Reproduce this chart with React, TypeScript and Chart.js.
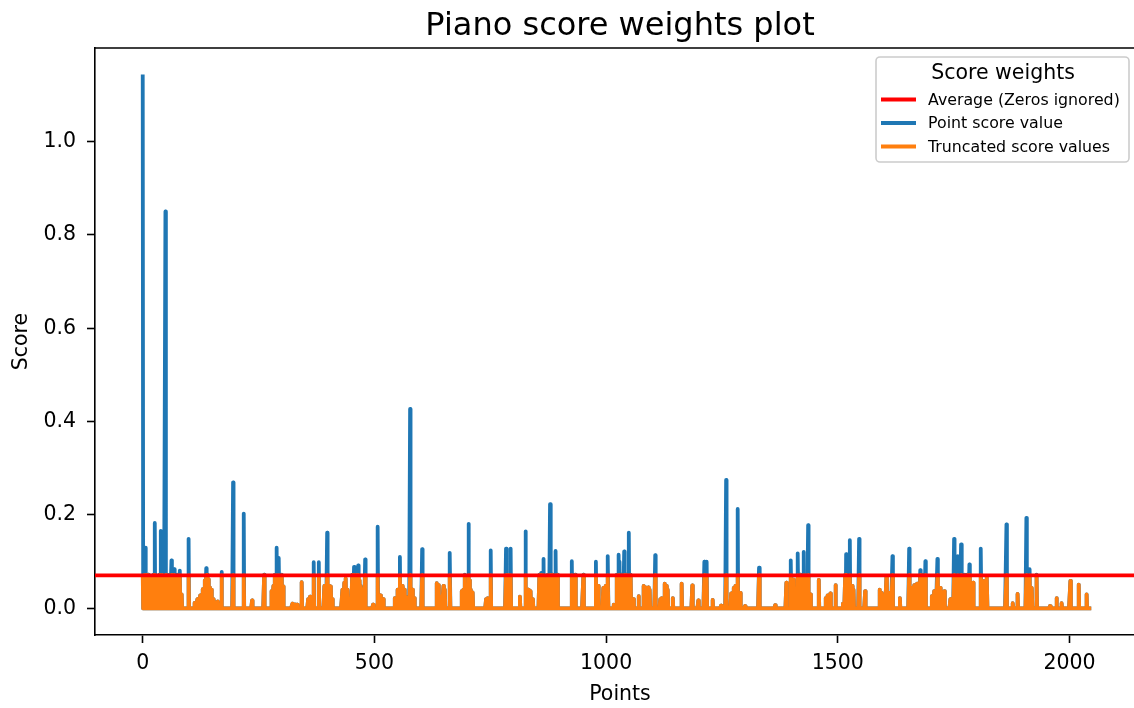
import { useEffect, useRef } from 'react';
import { Chart, registerables } from 'chart.js';

Chart.register(...registerables);

const CHART_TITLE = 'Piano score weights plot';
const X_LABEL = 'Points';
const Y_LABEL = 'Score';
const LEGEND_TITLE = 'Score weights';
const LABEL_AVERAGE = 'Average (Zeros ignored)';
const LABEL_POINT = 'Point score value';
const LABEL_TRUNC = 'Truncated score values';

const N_POINTS = 2048;
const AVERAGE_SCORE = 0.0707;

const X_TICKS = [0, 500, 1000, 1500, 2000];
const Y_TICKS = [0, 0.2, 0.4, 0.6, 0.8, 1.0];

// non-zero samples of the score series (index, value); every other point is 0
const SPIKE_INDEX = [
  0, 2, 4, 6, 8, 10, 12, 14, 16, 18, 20, 23, 26, 28, 30, 33, 36, 39, 42, 45, 49, 52, 55, 58, 62, 65, 68, 71, 75, 80, 84, 99,
  112, 118, 124, 130, 134, 137, 139, 141, 143, 145, 148, 152, 158, 162, 170, 195, 218, 236, 262, 278, 282, 285, 289, 291, 294, 297, 300, 303, 323,
  329, 333, 343, 357, 361, 369, 380, 392, 395, 398, 400, 402, 406, 409, 431, 435, 438, 442, 452, 456, 458, 461, 465, 468, 471, 474, 480, 497,
  507, 513, 519, 544, 550, 555, 560, 565, 568, 577, 582, 586, 603, 634, 638, 644, 649, 652, 663, 688, 692, 695, 699, 703, 705, 708, 712,
  741, 745, 751, 784, 789, 794, 814, 826, 832, 837, 842, 856, 860, 865, 868, 870, 874, 879, 882, 884, 887, 891, 895, 926, 933, 951, 978, 983, 994, 999,
  1004, 1017, 1023, 1027, 1029, 1034, 1039, 1043, 1049, 1053, 1059, 1070, 1081, 1084, 1091, 1094, 1106, 1117, 1120, 1127, 1131, 1133, 1144, 1163, 1186, 1199,
  1212, 1217, 1230, 1248, 1259, 1270, 1275, 1279, 1284, 1289, 1300, 1330, 1365, 1389, 1399, 1405, 1414, 1419, 1426, 1431, 1436, 1441, 1459, 1474, 1478,
  1484, 1495, 1511, 1516, 1518, 1526, 1531, 1534, 1546, 1559, 1590, 1595, 1605, 1611, 1618, 1634, 1654, 1660, 1665, 1671, 1678, 1683, 1689, 1703, 1708,
  1715, 1721, 1730, 1743, 1751, 1759, 1766, 1774, 1779, 1784, 1792, 1809, 1815, 1822, 1864, 1878, 1888, 1907, 1914, 1919, 1929, 1958, 1972, 1983, 2002, 2020, 2037,
];
const SPIKE_SCORE = [
  1.143, 0.072, 0.074, 0.13, 0.072, 0.06, 0.072, 0.065, 0.05, 0.045, 0.04, 0.072, 0.183, 0.072, 0.03, 0.02, 0.072, 0.166, 0.072, 0.05, 0.85, 0.072, 0.06, 0.072, 0.103, 0.072, 0.084, 0.03, 0.072, 0.081, 0.03, 0.149,
  0.012, 0.02, 0.028, 0.041, 0.06, 0.086, 0.072, 0.062, 0.05, 0.045, 0.04, 0.02, 0.013, 0.015, 0.078, 0.27, 0.203, 0.017, 0.072, 0.037, 0.048, 0.072, 0.13, 0.06, 0.108, 0.05, 0.072, 0.047, 0.01,
  0.008, 0.008, 0.056, 0.02, 0.025, 0.099, 0.099, 0.048, 0.03, 0.162, 0.04, 0.048, 0.047, 0.02, 0.04, 0.055, 0.064, 0.04, 0.072, 0.089, 0.05, 0.072, 0.092, 0.06, 0.048, 0.04, 0.105, 0.008,
  0.175, 0.028, 0.02, 0.022, 0.04, 0.11, 0.048, 0.04, 0.025, 0.427, 0.04, 0.022, 0.127, 0.054, 0.05, 0.025, 0.048, 0.04, 0.119, 0.037, 0.04, 0.072, 0.05, 0.181, 0.06, 0.04, 0.034,
  0.02, 0.022, 0.124, 0.128, 0.072, 0.128, 0.025, 0.165, 0.04, 0.037, 0.02, 0.072, 0.076, 0.106, 0.05, 0.062, 0.072, 0.223, 0.06, 0.072, 0.05, 0.123, 0.072, 0.101, 0.072, 0.072, 0.1, 0.048, 0.044, 0.048,
  0.112, 0.008, 0.072, 0.115, 0.1, 0.072, 0.122, 0.072, 0.162, 0.072, 0.02, 0.026, 0.048, 0.045, 0.045, 0.04, 0.114, 0.02, 0.022, 0.053, 0.048, 0.04, 0.022, 0.053, 0.049, 0.017,
  0.1, 0.1, 0.018, 0.006, 0.275, 0.032, 0.044, 0.048, 0.213, 0.033, 0.005, 0.087, 0.007, 0.055, 0.103, 0.062, 0.118, 0.072, 0.121, 0.072, 0.178, 0.03, 0.061, 0.022, 0.028,
  0.032, 0.05, 0.01, 0.072, 0.116, 0.146, 0.048, 0.04, 0.149, 0.037, 0.04, 0.033, 0.068, 0.033, 0.112, 0.022, 0.128, 0.044, 0.05, 0.053, 0.082, 0.072, 0.101, 0.026, 0.037,
  0.106, 0.044, 0.037, 0.02, 0.149, 0.112, 0.137, 0.072, 0.072, 0.094, 0.055, 0.128, 0.059, 0.068, 0.18, 0.011, 0.031, 0.194, 0.084, 0.044, 0.072, 0.005, 0.022, 0.011, 0.059, 0.051, 0.03,
];

const X_MIN = -103;
const X_MAX = 2163;
const Y_MIN = -0.057;
const Y_MAX = 1.2;

const COLOR_AVG = '#ff0000';
const COLOR_POINT = '#1f77b4';
const COLOR_TRUNC = '#ff7f0e';
const FONT = 'DejaVu Sans';
const LINE_W = 3.8;

const titlePlugin = {
  id: 'mplTitle',
  afterDraw(chart: any) {
    const { ctx, chartArea } = chart;
    ctx.save();
    ctx.fillStyle = '#000';
    ctx.font = `32px "${FONT}"`;
    ctx.textAlign = 'center';
    ctx.textBaseline = 'alphabetic';
    ctx.fillText(CHART_TITLE, (chartArea.left + chartArea.right) / 2, 35);
    ctx.restore();
  },
};

const legendPlugin = {
  id: 'mplLegend',
  afterDraw(chart: any) {
    const ctx = chart.ctx;
    ctx.save();
    const x0 = 876, y0 = 57, w = 253, h = 105, r = 4;
    ctx.beginPath();
    ctx.moveTo(x0 + r, y0);
    ctx.lineTo(x0 + w - r, y0);
    ctx.arcTo(x0 + w, y0, x0 + w, y0 + r, r);
    ctx.lineTo(x0 + w, y0 + h - r);
    ctx.arcTo(x0 + w, y0 + h, x0 + w - r, y0 + h, r);
    ctx.lineTo(x0 + r, y0 + h);
    ctx.arcTo(x0, y0 + h, x0, y0 + h - r, r);
    ctx.lineTo(x0, y0 + r);
    ctx.arcTo(x0, y0, x0 + r, y0, r);
    ctx.closePath();
    ctx.fillStyle = 'rgba(255,255,255,0.8)';
    ctx.fill();
    ctx.strokeStyle = '#cccccc';
    ctx.lineWidth = 1.6;
    ctx.stroke();

    ctx.fillStyle = '#000';
    ctx.textBaseline = 'middle';
    ctx.textAlign = 'center';
    ctx.font = `20.5px "${FONT}"`;
    ctx.fillText(LEGEND_TITLE, 1003, 74);

    const items = [
      { label: LABEL_AVERAGE, color: COLOR_AVG, y: 99.5 },
      { label: LABEL_POINT, color: COLOR_POINT, y: 123 },
      { label: LABEL_TRUNC, color: COLOR_TRUNC, y: 146.5 },
    ];
    ctx.font = `15.8px "${FONT}"`;
    ctx.textAlign = 'left';
    for (const it of items) {
      ctx.beginPath();
      ctx.moveTo(881, it.y);
      ctx.lineTo(916, it.y);
      ctx.strokeStyle = it.color;
      ctx.lineWidth = LINE_W;
      ctx.lineCap = 'butt';
      ctx.stroke();
      ctx.fillStyle = '#000';
      ctx.fillText(it.label, 928, it.y + 1);
    }
    ctx.restore();
  },
};

const topSpinePlugin = {
  id: 'topSpine',
  afterDatasetsDraw(chart: any) {
    const { ctx, chartArea } = chart;
    ctx.save();
    ctx.strokeStyle = '#000';
    ctx.lineWidth = 1.6;
    ctx.beginPath();
    ctx.moveTo(chartArea.left, chartArea.top);
    ctx.lineTo(chartArea.right, chartArea.top);
    ctx.lineTo(chartArea.right, chartArea.bottom);
    ctx.stroke();
    ctx.restore();
  },
};

export default function App() {
  const canvasRef = useRef<HTMLCanvasElement | null>(null);

  useEffect(() => {
    const canvas = canvasRef.current;
    if (!canvas) return;

    const scores: number[] = new Array(N_POINTS).fill(0);
    SPIKE_INDEX.forEach((idx, k) => {
      scores[idx] = SPIKE_SCORE[k];
    });
    const pointData = scores.map((v, i) => ({ x: i, y: v }));
    const truncData = scores.map((v, i) => ({ x: i, y: Math.min(v, AVERAGE_SCORE) }));
    const avgData = [
      { x: X_MIN, y: AVERAGE_SCORE },
      { x: X_MAX, y: AVERAGE_SCORE },
    ];

    const common = {
      pointRadius: 0,
      pointHoverRadius: 0,
      borderWidth: LINE_W,
      tension: 0,
      fill: false,
      borderJoinStyle: 'round' as const,
      borderCapStyle: 'butt' as const,
    };

    const chart = new Chart(canvas, {
      type: 'line',
      data: {
        datasets: [
          { ...common, label: LABEL_AVERAGE, data: avgData, borderColor: COLOR_AVG, backgroundColor: COLOR_AVG },
          { ...common, label: LABEL_TRUNC, data: truncData, borderColor: COLOR_TRUNC, backgroundColor: COLOR_TRUNC },
          { ...common, label: LABEL_POINT, data: pointData, borderColor: COLOR_POINT, backgroundColor: COLOR_POINT },
        ],
      },
      options: {
        animation: false,
        responsive: false,
        devicePixelRatio: 1,
        parsing: false,
        normalized: true,
        events: [],
        layout: { padding: { left: 0, right: 5, top: 48, bottom: 0 } },
        plugins: {
          legend: { display: false },
          tooltip: { enabled: false },
          title: { display: false },
        },
        scales: {
          x: {
            type: 'linear',
            min: X_MIN,
            max: X_MAX,
            afterFit(scale: any) {
              scale.height = 73;
            },
            afterBuildTicks(scale: any) {
              scale.ticks = X_TICKS.map((v) => ({ value: v }));
            },
            ticks: {
              color: '#000',
              font: { family: FONT, size: 20.5 },
              padding: 8,
              maxRotation: 0,
              autoSkip: false,
              callback: (v: any) => String(v),
            },
            grid: {
              display: true,
              drawOnChartArea: false,
              drawTicks: true,
              tickLength: 8,
              tickWidth: 1.6,
              tickColor: '#000',
            },
            border: { display: true, color: '#000', width: 1.6 },
            title: {
              display: true,
              text: X_LABEL,
              color: '#000',
              font: { family: FONT, size: 20.5 },
              padding: { top: 0, bottom: 1 },
            },
          },
          y: {
            type: 'linear',
            min: Y_MIN,
            max: Y_MAX,
            afterFit(scale: any) {
              scale.width = 95;
            },
            afterBuildTicks(scale: any) {
              scale.ticks = Y_TICKS.map((v) => ({ value: v }));
            },
            ticks: {
              color: '#000',
              font: { family: FONT, size: 20.5 },
              padding: 11,
              autoSkip: false,
              callback: (v: any) => Number(v).toFixed(1),
            },
            grid: {
              display: true,
              drawOnChartArea: false,
              drawTicks: true,
              tickLength: 8,
              tickWidth: 1.6,
              tickColor: '#000',
            },
            border: { display: true, color: '#000', width: 1.6 },
            title: {
              display: true,
              text: Y_LABEL,
              color: '#000',
              font: { family: FONT, size: 20.5 },
              padding: { top: 9, bottom: 0 },
            },
          },
        },
      },
      plugins: [topSpinePlugin, titlePlugin, legendPlugin],
    } as any);

    return () => {
      chart.destroy();
    };
  }, []);

  return (
    <div
      style={{
        position: 'absolute',
        left: 0,
        top: 0,
        width: 1134,
        height: 708,
        overflow: 'hidden',
        background: '#fff',
      }}
    >
      <canvas ref={canvasRef} width={1150} height={708} style={{ display: 'block' }} />
    </div>
  );
}
